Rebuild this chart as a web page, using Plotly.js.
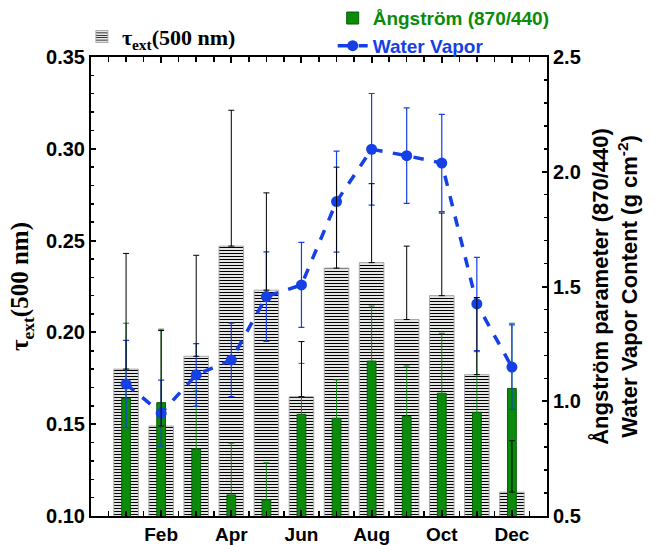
<!DOCTYPE html>
<html><head><meta charset="utf-8">
<script src="https://cdn.plot.ly/plotly-3.0.1.min.js"></script>
<style>html,body{margin:0;padding:0;background:#fff}</style>
</head><body><div id="chart" style="width:661px;height:545px"></div>
<script>
const months = [1,2,3,4,5,6,7,8,9,10,11,12];
const monthLabels = ['Jan','Feb','Mar','Apr','May','Jun','Jul','Aug','Sep','Oct','Nov','Dec'];
const tauExt = [0.180,0.149,0.187,0.247,0.223,0.165,0.235,0.238,0.207,0.220,0.177,0.113];
const tauErrUp = [0.063,0.052,0.055,0.074,0.053,0.030,0.055,0.043,0.040,0.045,0.042,0.028];
const angstrom = [1.013,0.994,0.792,0.592,0.570,0.943,0.926,1.175,0.933,1.035,0.952,1.056];
const angstromErr = [0.327,0.320,0.253,0.225,0.162,0.222,0.167,0.240,0.221,0.261,0.264,0.284];
const waterVapor = [1.075,0.948,1.115,1.180,1.456,1.507,1.870,2.098,2.070,2.038,1.424,1.149];
const waterVaporErr = [0.190,0.144,0.136,0.160,0.195,0.185,0.220,0.243,0.208,0.212,0.203,0.184];

const GREEN = '#0b8a0b';
const BLUE = '#1440e6';
const tickFont = {family:'Liberation Sans, Arial, sans-serif', size:20, color:'black', weight:'bold'};

const labelledMonths = months.filter(m => m % 2 === 0);
const labelledText = labelledMonths.map(m => monthLabels[m - 1]);

const traces = [
  {
    type:'bar', x:months, y:tauExt, width:0.7, xaxis:'x', yaxis:'y',
    name:'τ<sub>ext</sub>(500 nm)', legend:'legend',
    marker:{color:'white', line:{color:'#aaaaaa', width:1},
      pattern:{shape:'-', fgcolor:'black', bgcolor:'white', size:3, solidity:0.4}}
  },
  {
    type:'bar', x:months, y:angstrom, width:0.25, xaxis:'x', yaxis:'y2',
    name:'<span style="color:'+GREEN+'">Ångström (870/440)</span>', legend:'legend2',
    marker:{color:GREEN, line:{color:'#056005', width:1}},
    error_y:{type:'data', array:angstromErr, visible:true, color:GREEN, thickness:1, width:3}
  },
  {
    type:'scatter', mode:'lines+markers', x:months, y:waterVapor, xaxis:'x', yaxis:'y2',
    name:'<span style="color:'+BLUE+'">Water Vapor</span>', legend:'legend2',
    line:{color:BLUE, width:3.5, dash:'dash'},
    marker:{color:BLUE, size:11},
    error_y:{type:'data', array:waterVaporErr, visible:true, color:BLUE, thickness:1.2, width:3}
  },
  {
    type:'scatter', mode:'markers', x:months, y:tauExt, xaxis:'x', yaxis:'y3',
    showlegend:false, hoverinfo:'skip',
    marker:{size:1, color:'rgba(0,0,0,0)'},
    error_y:{type:'data', symmetric:false, array:tauErrUp, arrayminus:tauErrUp.map(()=>0), visible:true, color:'black', thickness:1, width:3}
  }
];

const layout = {
  width:661, height:545,
  margin:{l:91, r:114, t:57, b:29, autoexpand:false},
  paper_bgcolor:'white', plot_bgcolor:'white',
  barmode:'overlay',
  showlegend:true,
  xaxis:{
    range:[0,13], tickmode:'array', tickvals:labelledMonths, ticktext:labelledText,
    ticks:'inside', ticklen:6, tickwidth:2, tickcolor:'black',
    minor:{tickmode:'linear', tick0:0, dtick:0.5, ticks:'inside', ticklen:5, tickwidth:1.5, tickcolor:'black'},
    showline:true, linewidth:2, linecolor:'black', mirror:'ticks',
    showgrid:false, zeroline:false, tickfont:{family:'Liberation Sans, Arial, sans-serif', size:19, color:'black', weight:'bold'}
  },
  yaxis:{
    range:[0.10,0.35], tickmode:'linear', tick0:0.10, dtick:0.05, tickformat:'.2f',
    ticks:'inside', ticklen:5, tickwidth:2, tickcolor:'black',
    minor:{dtick:0.01, ticks:'inside', ticklen:3, tickwidth:1.5, tickcolor:'black'},
    showline:true, linewidth:2, linecolor:'black',
    showgrid:false, zeroline:false, tickfont:tickFont,
    title:{text:'τ<sub>ext</sub>(500 nm)', font:{family:'Liberation Serif, Times New Roman, serif', size:25, color:'black', weight:'bold'}, standoff:10}
  },
  yaxis2:{
    overlaying:'y', side:'right',
    range:[0.5,2.5], tickmode:'linear', tick0:0.5, dtick:0.5, tickformat:'.1f',
    ticks:'inside', ticklen:5, tickwidth:2, tickcolor:'black',
    minor:{dtick:0.1, ticks:'inside', ticklen:3, tickwidth:1.5, tickcolor:'black'},
    showline:true, linewidth:2, linecolor:'black',
    showgrid:false, zeroline:false, tickfont:tickFont,
    title:{text:'Ångström parameter (870/440)<br>Water Vapor Content (g cm<sup>-2</sup>)', font:{family:'Liberation Sans, Arial, sans-serif', size:22, color:'black', weight:'bold'}, standoff:13}
  },
  yaxis3:{overlaying:'y', range:[0.10,0.35], visible:false, showgrid:false, zeroline:false},
  legend:{
    x:-0.02, y:1.09, xanchor:'left', yanchor:'top', bgcolor:'rgba(0,0,0,0)',
    font:{family:'Liberation Serif, Times New Roman, serif', size:22, color:'black', weight:'bold'},
    itemclick:false
  },
  legend2:{
    x:0.53, y:1.126, xanchor:'left', yanchor:'top', bgcolor:'rgba(0,0,0,0)',
    font:{family:'Liberation Sans, Arial, sans-serif', size:19, color:'black', weight:'bold'},
    tracegroupgap:0, itemclick:false
  }
};

Plotly.newPlot('chart', traces, layout, {displayModeBar:false, staticPlot:true});
</script>
</body></html>
